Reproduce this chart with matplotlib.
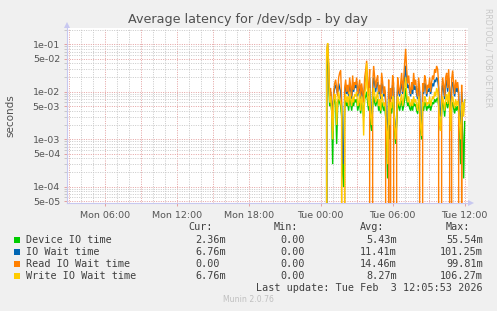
import numpy as np
import matplotlib
matplotlib.use('Agg')
import matplotlib.pyplot as plt
from matplotlib.ticker import FixedLocator, LogLocator, NullFormatter, FuncFormatter
from matplotlib.patches import Rectangle, Polygon

# ---------------- data (values in milliseconds, 5-minute samples from Tue 00:25) ----------------
start_hour = 24 + 25 / 60.0      # hours since Mon 00:00
step_min = 5

device_io = [0, 30, 55.5, 15, 5, 6, 4, 0.3, 5, 7,
             6, 0.8, 5, 7, 6, 5, 3, 0.2, 0.1, 5,
             7, 5, 6, 4, 8, 6, 4, 6, 5, 7,
             6, 7, 4, 5, 6, 3.5, 6, 5, 3, 7,
             8, 10, 6, 4, 8, 2, 1.5, 5, 8, 6,
             5, 6, 7, 4, 5, 3.5, 6, 5, 4, 5,
             3, 0.8, 0.15, 5, 1, 4.5, 3.5, 6, 5, 1.5,
             0.8, 2, 6, 5, 4, 5.5, 6.5, 4, 5, 7,
             12, 7, 5, 6, 4.5, 4, 5.5, 4, 6, 5,
             5.5, 4, 3.5, 6, 4.5, 1.5, 1, 5, 4, 6,
             5.5, 4, 5, 4.5, 6, 4, 5, 6, 5.5, 7,
             6, 7, 7.5, 5, 2, 1.5, 4, 6, 5, 3,
             5.5, 6, 4.5, 7, 5, 1.8, 5, 6, 4.5, 3.5,
             5, 4, 5, 4, 1.5, 0.3, 4, 1.2, 0.15, 2.36]

io_wait = [0, 50, 101.25, 30, 8, 10, 6, 3, 9, 12,
           14, 11, 9, 15, 12, 10, 5, 0.5, 0.3, 10,
           14, 9, 12, 8, 15, 11, 7, 13, 10, 14,
           12, 16, 8, 11, 14, 7, 12, 9, 6, 15,
           18, 25, 12, 8, 20, 4, 3, 11, 20, 15,
           10, 14, 16, 9, 12, 7, 15, 13, 8, 11,
           6, 2, 1.5, 12, 3, 10, 7, 14, 12, 2,
           1.5, 3, 14, 10, 8, 12, 15, 9, 13, 20,
           35, 18, 12, 14, 10, 8, 13, 9, 15, 11,
           13, 9, 7, 14, 10, 2, 2, 11, 9, 15,
           13, 8, 11, 10, 14, 9, 12, 15, 13, 18,
           16, 20, 18, 12, 3, 4, 9, 14, 11, 7,
           14, 18, 10, 20, 12, 3, 13, 16, 11, 8,
           13, 10, 12, 9, 3, 2, 10, 5, 4, 6.76]

read_wait = [0, 60, 99.81, 40, 8, 12, 5, 1.5, 10, 15,
             18, 12, 8, 20, 25, 28, 6, 0, 0, 12,
             18, 10, 14, 9, 20, 13, 8, 22, 11, 16,
             14, 20, 9, 12, 18, 8, 15, 10, 6, 20,
             28, 45, 15, 9, 30, 0, 0, 14, 35, 20,
             12, 18, 22, 10, 14, 8, 25, 16, 9, 13,
             7, 0, 0, 18, 0, 12, 8, 22, 15, 0,
             0, 3, 20, 12, 9, 15, 25, 10, 18, 40,
             80, 30, 15, 22, 12, 9, 16, 11, 25, 14,
             18, 10, 8, 20, 12, 0, 0, 15, 10, 22,
             18, 9, 14, 12, 20, 10, 16, 22, 18, 30,
             25, 35, 30, 15, 0, 0, 10, 20, 14, 8,
             20, 25, 12, 30, 10, 0, 18, 28, 15, 9,
             18, 12, 16, 10, 0, 0, 14, 0, 0, 0]

write_wait = [0, 70, 106.27, 35, 6, 8, 4, 1, 6, 9,
              8, 2, 6, 10, 7, 6, 4, 0, 0, 6,
              9, 6, 8, 5, 10, 7, 5, 8, 6, 9,
              8, 10, 5, 6, 9, 4, 8, 6, 1.2, 9,
              12, 40, 8, 5, 12, 3, 2, 7, 12, 9,
              6, 8, 10, 5, 7, 4, 9, 7, 5, 6,
              4, 1.5, 0.3, 7, 2, 6, 4.5, 8, 7, 1.8,
              1, 2.5, 8, 6, 5, 7, 9, 5, 7, 12,
              20, 10, 6, 8, 5.5, 5, 7, 5, 8, 6,
              7, 5, 4, 8, 6, 1.8, 1.2, 6, 5, 8,
              7, 5, 6, 5.5, 8, 5, 6.5, 8, 7, 10,
              8, 12, 10, 6, 2, 1.5, 5, 8, 6, 4,
              7, 9, 5.5, 10, 6, 1.5, 6.5, 8, 6, 4.5,
              7, 5, 6.5, 5, 2, 1, 5, 6, 3, 6.76]

series_names = ["Device IO time", "IO Wait time", "Read IO Wait time", "Write IO Wait time"]
series_colors = ["#00CC00", "#0066B3", "#FF8000", "#FFCC00"]
cur_vals = ["2.36m", "6.76m", "0.00", "6.76m"]
min_vals = ["0.00", "0.00", "0.00", "0.00"]
avg_vals = ["5.43m", "11.41m", "14.46m", "8.27m"]
max_vals = ["55.54m", "101.25m", "99.81m", "106.27m"]

x_tick_hours = [6, 12, 18, 24, 30, 36]
x_tick_labels = ["Mon 06:00", "Mon 12:00", "Mon 18:00", "Tue 00:00", "Tue 06:00", "Tue 12:00"]
y_major = [5e-5, 1e-4, 5e-4, 1e-3, 5e-3, 1e-2, 5e-2, 1e-1]

# ---------------- figure ----------------
W, H = 497, 311
fig = plt.figure(figsize=(W / 100, H / 100), dpi=100, facecolor='#F0F0F0')


def fx(x):
    return x / W


def fy(y):
    return 1 - y / H


L, R, T, B = 67, 468, 28, 203
ax = fig.add_axes([fx(L), fy(B), (R - L) / W, (B - T) / H])
ax.set_facecolor('white')
ax.set_yscale('log', nonpositive='clip')
ax.set_xlim(2.86, 36.28)
ax.set_ylim(4.56e-5, 0.22)

n = len(device_io)
t = start_hour + np.arange(n) * step_min / 60.0
for vals, col in zip([device_io, io_wait, read_wait, write_wait], series_colors):
    v = np.array(vals, dtype=float) / 1000.0
    ax.plot(t, v, color=col, lw=1.0, solid_joinstyle='miter', zorder=3)

# grid
minor_col = '#c8c8c8'
major_col = '#e4a0a0'
ax.xaxis.set_major_locator(FixedLocator(x_tick_hours))
ax.xaxis.set_major_formatter(FuncFormatter(lambda v, p: x_tick_labels[x_tick_hours.index(int(round(v)))] if int(round(v)) in x_tick_hours else ''))
ax.xaxis.set_minor_locator(FixedLocator(np.arange(3, 37, 1)))
ax.yaxis.set_major_locator(FixedLocator(y_major))
ax.yaxis.set_major_formatter(FuncFormatter(lambda v, p: '%.0e' % v))
ax.yaxis.set_minor_locator(LogLocator(base=10, subs=(2, 3, 4, 6, 7, 8, 9), numticks=20))
ax.yaxis.set_minor_formatter(NullFormatter())

for h in np.arange(3, 37, 1):
    c = major_col if h % 3 == 0 else minor_col
    ax.axvline(h, color=c, lw=0.7, ls=(0, (1, 1.4)), zorder=1)
for dec in [1e-5, 1e-4, 1e-3, 1e-2, 1e-1]:
    for s in range(1, 10):
        yv = dec * s
        if 4.56e-5 < yv < 0.22:
            c = major_col if s in (1, 5) else minor_col
            ax.axhline(yv, color=c, lw=0.7, ls=(0, (1, 1.4)), zorder=1 if s not in (1, 5) else 2)

ax.tick_params(axis='both', which='both', colors=major_col, labelcolor='#555555', labelsize=6.8)
ax.tick_params(axis='x', which='major', length=2, pad=3.5, width=0.7)
ax.tick_params(axis='x', which='minor', length=0)
ax.tick_params(axis='y', which='major', length=2, pad=3, width=0.7)
ax.tick_params(axis='y', which='minor', length=2, width=0.7, colors='#c8c8c8')

for s in ['top', 'right']:
    ax.spines[s].set_visible(False)
for s in ['left', 'bottom']:
    ax.spines[s].set_color('#c8c8f0')
    ax.spines[s].set_linewidth(0.8)

# arrows at axis ends
fig.patches.append(Polygon([[fx(L - 3), fy(T)], [fx(L + 3), fy(T)], [fx(L), fy(T - 6)]],
                           closed=True, transform=fig.transFigure, facecolor='#c8c8f0', edgecolor='none'))
fig.patches.append(Polygon([[fx(R), fy(B - 3)], [fx(R), fy(B + 3)], [fx(R + 6), fy(B)]],
                           closed=True, transform=fig.transFigure, facecolor='#c8c8f0', edgecolor='none'))

# titles
fig.text(fx(248), fy(19), "Average latency for /dev/sdp - by day", ha='center', va='center',
         fontsize=9.2, color='#505050')
fig.text(fx(10), fy(116), "seconds", rotation=90, ha='center', va='center', fontsize=7.5, color='#505050')
fig.text(fx(488), fy(8), "RRDTOOL / TOBI OETIKER", rotation=270, ha='center', va='top',
         fontsize=5.6, color='#c8c8c8')

# legend
mono = 'DejaVu Sans Mono'
fs = 7.25
tc = '#404040'
hdr_y = 227.3
for txt, xr in zip(["Cur:", "Min:", "Avg:", "Max:"], [212.7, 298.3, 384.3, 470]):
    fig.text(fx(xr), fy(hdr_y), txt, ha='right', va='center', family=mono, fontsize=fs, color=tc)

cw = 6.05
rows_y = [239.7, 251.7, 263.7, 275.7]
for i in range(4):
    y = rows_y[i]
    fig.patches.append(Rectangle((fx(14), fy(y + 3)), 6 / W, 6 / H, transform=fig.transFigure,
                                 facecolor=series_colors[i], edgecolor='none'))
    fig.text(fx(26), fy(y), series_names[i], ha='left', va='center', family=mono, fontsize=fs, color=tc)
    for val, xr in zip([cur_vals[i], min_vals[i], avg_vals[i], max_vals[i]], [226, 311, 397, 482.7]):
        xo = xr if val.endswith('m') else xr - cw
        fig.text(fx(xo), fy(y), val, ha='right', va='center', family=mono, fontsize=fs, color=tc)

fig.text(fx(482.7), fy(287.7), "Last update: Tue Feb  3 12:05:53 2026", ha='right', va='center',
         family=mono, fontsize=fs, color=tc)
fig.text(fx(248), fy(300), "Munin 2.0.76", ha='center', va='center', fontsize=5.6, color='#c0c0c0')

fig.savefig('out.png', dpi=100, facecolor=fig.get_facecolor())
